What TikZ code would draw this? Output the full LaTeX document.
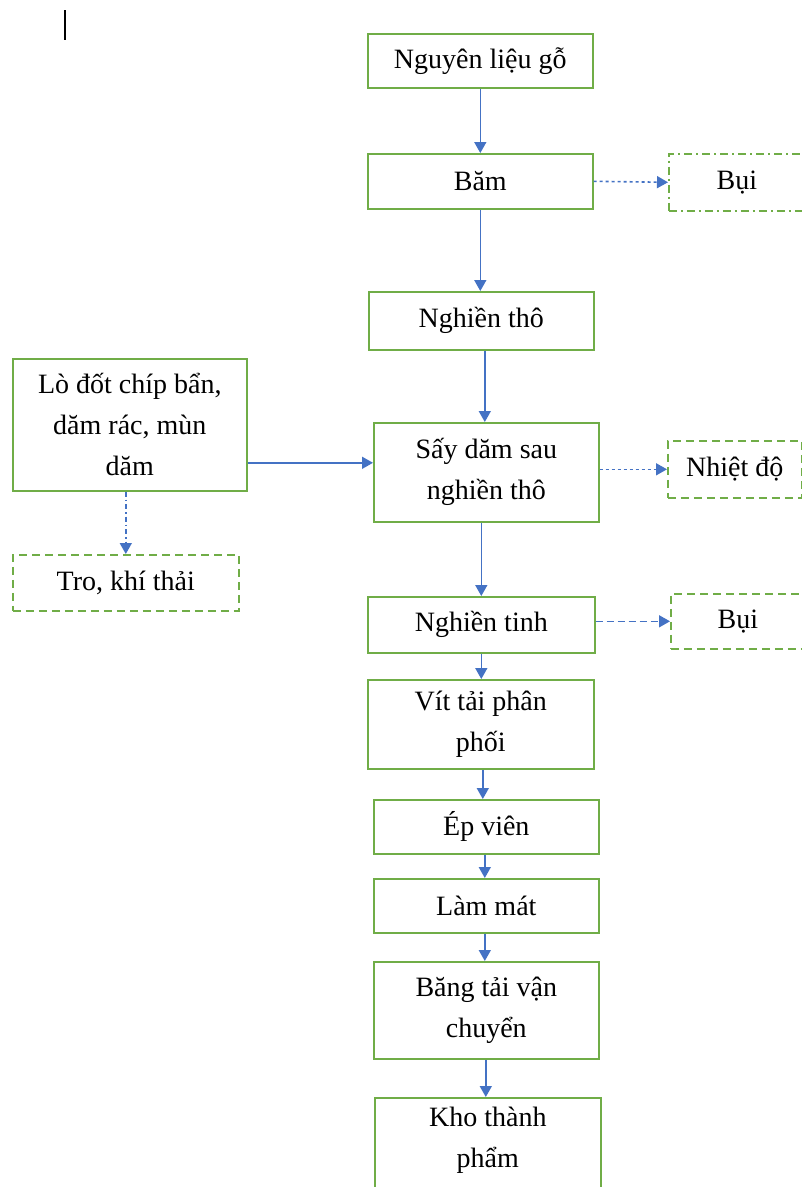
\documentclass[tikz,border=0pt]{standalone}
\usepackage{fontspec}
\setmainfont{Liberation Serif}
\usetikzlibrary{arrows.meta}
\definecolor{boxgreen}{HTML}{70AD47}
\definecolor{arrowblue}{HTML}{4472C4}
\begin{document}
\begin{tikzpicture}[x=1pt,y=-1pt,
  box/.style={draw=boxgreen,line width=1.6pt,anchor=north west,inner sep=0pt,
    align=center,font=\fontsize{28}{41}\selectfont},
  outbox/.style={box,dash pattern=on 8pt off 5pt},
  dashdotbox/.style={box,dash pattern=on 8pt off 4pt on 2pt off 4pt},
  arr/.style={draw=arrowblue,line width=1.6pt,-{Triangle[length=11pt,width=12pt]}},
  dotarr/.style={arr,dash pattern=on 3pt off 3pt},
  dasharr/.style={arr,dash pattern=on 7pt off 4pt},
  dashdotarr/.style={arr,dash pattern=on 5pt off 3pt on 1.5pt off 3pt}]
\clip (0,0) rectangle (802,1187);
\fill[white] (0,0) rectangle (802,1187);
% text cursor
\draw[black,line width=1.6pt] (65,10) -- (65,40);
% main boxes
\node[box,minimum width=225,minimum height=54] (n1) at (367,33) {Nguyên liệu gỗ};
\node[box,minimum width=225,minimum height=55] (n2) at (367,153) {Băm};
\node[box,minimum width=225,minimum height=58] (n3) at (368,291) {Nghiền thô};
\node[box,minimum width=234,minimum height=132] (lo) at (12,358) {Lò đốt chíp bẩn,\\dăm rác, mùn\\dăm};
\node[box,minimum width=225,minimum height=99] (n4) at (373,422) {Sấy dăm sau\\nghiền thô};
\node[box,minimum width=227,minimum height=56] (n9) at (367,596) {Nghiền tinh};
\node[box,minimum width=226,minimum height=89] (n11) at (367,679) {Vít tải phân\\phối};
\node[box,minimum width=225,minimum height=54] (n12) at (373,799) {Ép viên};
\node[box,minimum width=225,minimum height=54] (n13) at (373,878) {Làm mát};
\node[box,minimum width=225,minimum height=97] (n14) at (373,961) {Băng tải vận\\chuyển};
\node[box,minimum width=226,minimum height=120,text depth=42pt] (n15) at (374,1097) {Kho thành\\phẩm};
% output boxes
\node[dashdotbox,minimum width=136,minimum height=57] (bui1) at (668,153) {Bụi};
\node[outbox,minimum width=134,minimum height=57] (nhiet) at (667,440) {Nhiệt độ};
\node[outbox,minimum width=226,minimum height=56] (tro) at (12,554) {Tro, khí thải};
\node[outbox,minimum width=134,minimum height=55] (bui2) at (670,593) {Bụi};
% main arrows
\draw[arr] (n1.south) -- (n2.north);
\draw[arr] (n2.south) -- (n2.south |- n3.north);
\coordinate (n3out) at ([xshift=3.5pt]n3.south);
\draw[arr] (n3out) -- (n3out |- n4.north);
\draw[arr] (n9.north |- n4.south) -- (n9.north);
\draw[arr] (n9.south) -- (n9.south |- n11.north);
\coordinate (n11out) at ([xshift=2pt]n11.south);
\draw[arr] (n11out) -- (n11out |- n12.north);
\coordinate (n12out) at ([xshift=-1.5pt]n12.south);
\draw[arr] (n12out) -- (n12out |- n13.north);
\coordinate (n13out) at ([xshift=-1.5pt]n13.south);
\draw[arr] (n13out) -- (n13out |- n14.north);
\coordinate (n14out) at ([xshift=-0.5pt]n14.south);
\draw[arr] (n14out) -- (n14out |- n15.north);
\coordinate (n4in) at ([yshift=9.5pt]n4.west);
\draw[arr] (lo.east |- n4in) -- (n4in);
% side arrows
\draw[dotarr] (n2.east) -- (bui1.west);
\draw[dotarr] (nhiet.west -| n4.east) -- (nhiet.west);
\draw[dasharr] (bui2.west -| n9.east) -- (bui2.west);
\draw[dashdotarr] (tro.north |- lo.south) -- (tro.north);
\end{tikzpicture}
\end{document}
